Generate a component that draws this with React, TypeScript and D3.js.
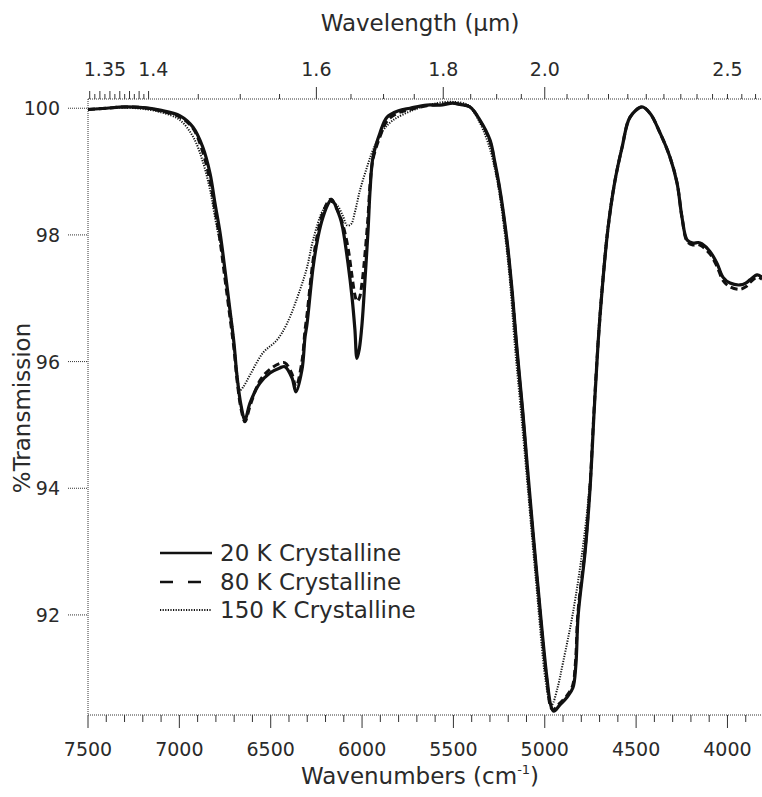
import React from "react";
import * as d3 from "d3";

const W = 762;
const H = 797;

// ---- data ----
const wn20 = [7500,7400,7300,7200,7106,6996,6925,6871,6832,6805,6777,6750,6723,6701,6684,6662,6641,6613,6559,6504,6450,6422,6383,6362,6329,6312,6301,6268,6241,6214,6180,6168,6121,6104,6077,6055,6039,6028,6015,6000,5984,5967,5956,5940,5902,5863,5800,5738,5645,5573,5502,5464,5409,5354,5300,5272,5245,5207,5179,5152,5120,5097,5042,4988,4965,4950,4917,4878,4846,4830,4817,4779,4752,4730,4708,4687,4654,4616,4577,4533,4468,4424,4369,4315,4276,4249,4221,4189,4160,4139,4096,4057,4024,3986,3931,3900,3877,3838,3811];
const t20 = [99.98,100.0,100.02,100.01,99.97,99.88,99.70,99.38,98.97,98.50,98.03,97.44,96.81,96.29,95.76,95.3,95.08,95.35,95.66,95.82,95.9,95.92,95.74,95.52,95.87,96.39,96.6,97.49,97.97,98.28,98.52,98.56,98.28,98.08,97.55,97.02,96.5,96.05,96.2,96.6,97.29,98.08,98.71,99.23,99.61,99.86,99.96,100.0,100.05,100.05,100.08,100.06,100.02,99.81,99.5,99.13,98.71,97.92,97.13,96.2,95.2,94.4,92.6,91.0,90.55,90.48,90.58,90.7,90.85,91.2,92.0,93.0,94.0,95.2,96.3,97.1,98.1,98.85,99.38,99.86,100.02,99.92,99.61,99.23,98.82,98.28,97.92,97.87,97.88,97.86,97.74,97.55,97.33,97.24,97.21,97.24,97.29,97.37,97.33];

const wn80 = [7500,7400,7300,7200,7106,6996,6925,6871,6832,6805,6777,6750,6723,6701,6684,6662,6641,6613,6559,6504,6450,6422,6383,6362,6329,6312,6301,6268,6241,6214,6180,6168,6140,6121,6104,6077,6055,6039,6028,6015,6000,5984,5967,5956,5940,5902,5863,5800,5738,5645,5573,5502,5464,5409,5354,5300,5272,5245,5207,5179,5152,5120,5097,5042,4988,4968,4955,4920,4880,4848,4832,4818,4779,4752,4730,4708,4687,4654,4616,4577,4533,4468,4424,4369,4315,4276,4249,4221,4189,4160,4139,4096,4057,4024,3986,3931,3900,3877,3838,3811];
const t80 = [99.98,100.0,100.02,100.01,99.96,99.86,99.68,99.3,98.85,98.4,97.9,97.3,96.7,96.2,95.7,95.25,95.05,95.3,95.7,95.88,95.97,95.98,95.8,95.6,96.0,96.5,96.75,97.6,98.05,98.35,98.55,98.56,98.42,98.3,98.15,97.8,97.35,97.05,96.95,97.0,97.25,97.7,98.3,98.8,99.2,99.55,99.8,99.93,99.98,100.04,100.06,100.08,100.06,100.02,99.8,99.48,99.1,98.68,97.88,97.1,96.15,95.15,94.35,92.55,90.95,90.55,90.5,90.6,90.72,90.88,91.25,92.05,93.05,94.05,95.25,96.3,97.1,98.1,98.85,99.38,99.86,100.02,99.92,99.61,99.23,98.82,98.28,97.9,97.84,97.85,97.82,97.7,97.5,97.28,97.18,97.14,97.18,97.25,97.33,97.3];

const wn150 = [7500,7400,7300,7200,7106,7000,6925,6871,6832,6800,6761,6740,6712,6684,6668,6650,6613,6542,6466,6411,6340,6301,6268,6214,6175,6137,6105,6082,6060,6040,6011,5973,5940,5885,5831,5721,5590,5502,5420,5370,5310,5260,5220,5190,5165,5130,5105,5050,4995,4970,4961,4930,4900,4846,4791,4752,4731,4712,4690,4657,4618,4577,4533,4468,4424,4369,4315,4276,4249,4221,4189,4160,4139,4096,4057,4024,3986,3931,3900,3877,3838,3811];
const t150 = [99.98,100.0,100.01,99.99,99.94,99.82,99.55,99.15,98.71,98.2,97.65,97.15,96.61,95.82,95.55,95.6,95.79,96.14,96.34,96.6,97.13,97.49,97.92,98.39,98.52,98.47,98.3,98.15,98.17,98.35,98.71,99.07,99.34,99.65,99.81,99.97,100.08,100.1,100.05,99.85,99.45,98.85,98.05,97.25,96.3,95.2,94.4,92.6,90.95,90.6,90.58,90.85,91.25,92.03,93.08,94.13,95.19,96.2,97.1,98.1,98.85,99.38,99.86,100.02,99.92,99.61,99.23,98.82,98.28,97.92,97.87,97.88,97.86,97.74,97.55,97.33,97.24,97.21,97.24,97.29,97.37,97.33];

const bottomLabels = [7500, 7000, 6500, 6000, 5500, 5000, 4500, 4000];
const leftLabels = [92, 94, 96, 98, 100];
const topLabels = ["1.35", "1.4", "1.6", "1.8", "2.0", "2.5"];
const topMajorLong = [1.6, 1.8, 2.0];
const legendNames = ["20 K Crystalline", "80 K Crystalline", "150 K Crystalline"];

const FONT = "'DejaVu Sans', Verdana, sans-serif";

export default function App() {
  const x = d3.scaleLinear().domain([7500, 3811]).range([88, 762]);
  const y = d3.scaleLinear().domain([90.42, 100.13]).range([715, 100]);

  const line = d3
    .line<[number, number]>()
    .x((d) => x(d[0]))
    .y((d) => y(d[1]))
    .curve(d3.curveCatmullRom.alpha(0.5));

  const s20 = wn20.map((w, i) => [w, t20[i]] as [number, number]);
  const s80 = wn80.map((w, i) => [w, t80[i]] as [number, number]);
  const s150 = wn150.map((w, i) => [w, t150[i]] as [number, number]);

  const bottomTicks = d3.range(7500, 3800, -100);
  const topFine = d3.range(1.335, 1.4, 0.005).map((v) => +v.toFixed(3));
  const topCoarse = d3.range(1.45, 2.62, 0.05).map((v) => +v.toFixed(2));
  const axisTop = 99;
  const axisBottom = 715;
  const axisLeft = 88;

  const legendY = [553, 582, 610];
  const legendStyles = [
    { w: 2.4, dash: "none" },
    { w: 2.4, dash: "13 15" },
    { w: 2, dash: "1.2 1.4" },
  ];
  const textCol = "#2a2a2a";

  return (
    <svg
      width={W}
      height={H}
      style={{ position: "absolute", left: 0, top: 0, background: "#fff" }}
      fontFamily={FONT}
    >
      <rect x={0} y={0} width={W} height={H} fill="#fff" />
      <line x1={axisLeft} x2={W} y1={axisTop} y2={axisTop} stroke="#333" strokeWidth={1} strokeDasharray="1 1" />
      <line x1={axisLeft} x2={W} y1={axisBottom} y2={axisBottom} stroke="#333" strokeWidth={1} strokeDasharray="1 1" />
      <line x1={axisLeft} x2={axisLeft} y1={axisTop} y2={axisBottom} stroke="#333" strokeWidth={1} strokeDasharray="1 1" />

      {bottomTicks.map((v) => {
        const major = v % 500 === 0;
        return (
          <line key={"b" + v} x1={x(v)} x2={x(v)} y1={axisBottom} y2={axisBottom + (major ? 13 : 7)} stroke="#333" strokeWidth={1} />
        );
      })}
      {bottomLabels.map((v) => (
        <text key={"bl" + v} x={x(v)} y={756} textAnchor="middle" fontSize={19} fill={textCol}>
          {v}
        </text>
      ))}
      <text x={420} y={784} textAnchor="middle" fontSize={23} fill={textCol}>
        Wavenumbers (cm
        <tspan dy={-10} fontSize={13}>-1</tspan>
        <tspan dy={10}>)</tspan>
      </text>

      {leftLabels.map((v) => (
        <g key={"l" + v}>
          <line x1={axisLeft - 20} x2={axisLeft} y1={y(v)} y2={y(v)} stroke="#333" strokeWidth={1} strokeDasharray="1 1" />
          <text x={60} y={y(v) + 7} textAnchor="end" fontSize={19} fill={textCol}>
            {v}
          </text>
        </g>
      ))}
      <text transform={`translate(30,408) rotate(-90)`} textAnchor="middle" fontSize={23} fill={textCol}>
        %Transmission
      </text>

      {topFine.map((v, i) => (
        <line key={"tf" + v} x1={x(1e4 / v)} x2={x(1e4 / v)} y1={axisTop} y2={axisTop - (i % 2 === 0 ? 8 : 5)} stroke="#333" strokeWidth={1} />
      ))}
      {topCoarse.map((v) => {
        const long = topMajorLong.some((m) => Math.abs(m - v) < 1e-6);
        return (
          <line key={"tc" + v} x1={x(1e4 / v)} x2={x(1e4 / v)} y1={axisTop} y2={axisTop - (long ? 12 : 5)} stroke="#333" strokeWidth={1} />
        );
      })}
      {topLabels.map((s) => (
        <text key={"tl" + s} x={x(1e4 / parseFloat(s))} y={76} textAnchor="middle" fontSize={19} fill={textCol}>
          {s}
        </text>
      ))}
      <text x={420} y={31} textAnchor="middle" fontSize={23} fill={textCol}>
        Wavelength (µm)
      </text>

      <path d={line(s150) || ""} fill="none" stroke="#111" strokeWidth={2} strokeDasharray="1.2 1.4" />
      <path d={line(s80) || ""} fill="none" stroke="#111" strokeWidth={3} strokeDasharray="7 4" />
      <path d={line(s20) || ""} fill="none" stroke="#111" strokeWidth={3.2} />

      {legendNames.map((n, i) => (
        <g key={n}>
          <line x1={160} x2={212} y1={legendY[i]} y2={legendY[i]} stroke="#111" strokeWidth={legendStyles[i].w} strokeDasharray={legendStyles[i].dash} />
          <text x={220} y={legendY[i] + 8} fontSize={23} fill={textCol}>
            {n}
          </text>
        </g>
      ))}
    </svg>
  );
}
